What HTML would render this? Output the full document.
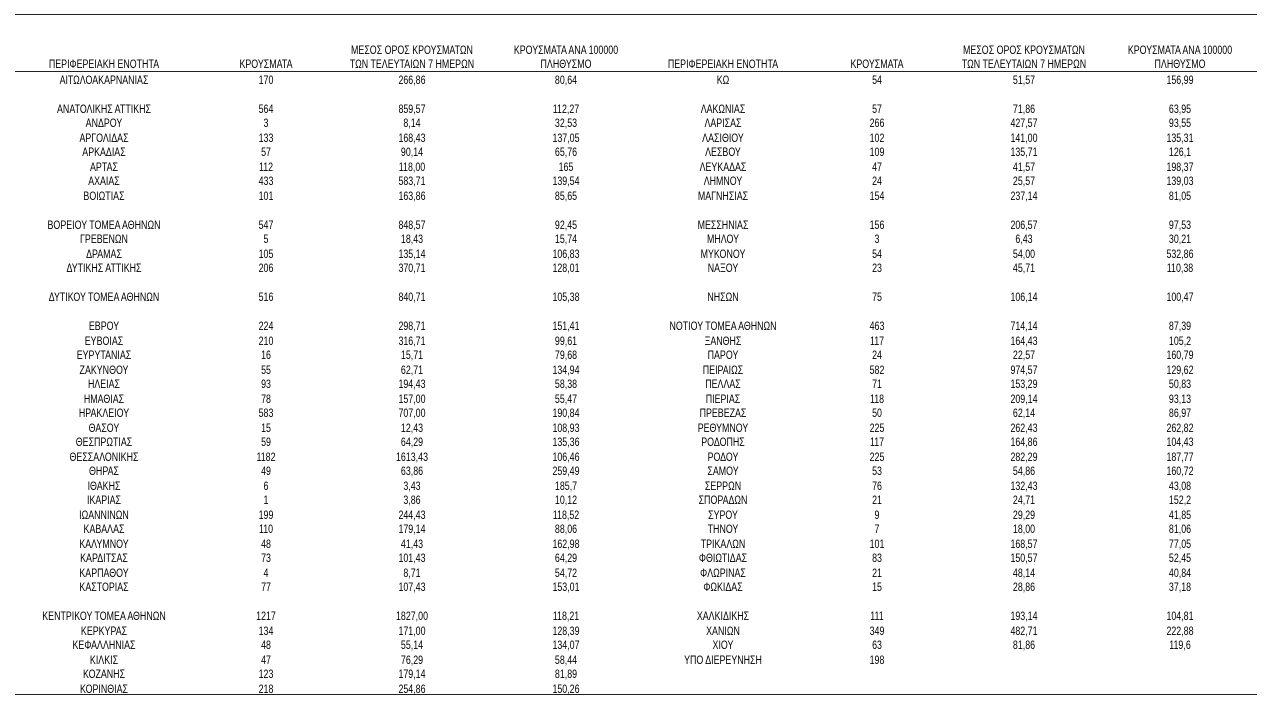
<!DOCTYPE html>
<html><head><meta charset="utf-8"><style>
body{margin:0;background:#fff;width:1267px;height:708px;position:relative;overflow:hidden;font-family:"Liberation Sans","DejaVu Sans",sans-serif;font-size:11.5px;color:#000}
.hl{position:absolute;left:15px;width:1242px;height:1px;background:#222}
.r{position:absolute;height:14.5px;line-height:14.5px;left:0;width:1267px}
.r span,.h span{position:absolute;width:200px;text-align:center;white-space:nowrap;transform:scaleX(.77)}
.r span{top:1.5px}
.a{left:4px}.b{left:166px}.c{left:312px}.d{left:466px}
.e{left:623px}.f{left:777px}.g{left:924px}.k{left:1080px}
.h{position:absolute;left:0;width:1267px;top:44px;height:28px;line-height:14px}
.h span.s{top:14px}
</style></head><body>
<div class="hl" style="top:14px"></div>
<div class="hl" style="top:71px"></div>
<div class="hl" style="top:694px"></div>
<div class="h">
<span class="a s">ΠΕΡΙΦΕΡΕΙΑΚΗ ΕΝΟΤΗΤΑ</span><span class="b s">ΚΡΟΥΣΜΑΤΑ</span><span class="c">ΜΕΣΟΣ ΟΡΟΣ ΚΡΟΥΣΜΑΤΩΝ<br>ΤΩΝ ΤΕΛΕΥΤΑΙΩΝ 7 ΗΜΕΡΩΝ</span><span class="d">ΚΡΟΥΣΜΑΤΑ ΑΝΑ 100000<br>ΠΛΗΘΥΣΜΟ</span>
<span class="e s">ΠΕΡΙΦΕΡΕΙΑΚΗ ΕΝΟΤΗΤΑ</span><span class="f s">ΚΡΟΥΣΜΑΤΑ</span><span class="g">ΜΕΣΟΣ ΟΡΟΣ ΚΡΟΥΣΜΑΤΩΝ<br>ΤΩΝ ΤΕΛΕΥΤΑΙΩΝ 7 ΗΜΕΡΩΝ</span><span class="k">ΚΡΟΥΣΜΑΤΑ ΑΝΑ 100000<br>ΠΛΗΘΥΣΜΟ</span>
</div>
<div class="r" style="top:72px"><span class="a">ΑΙΤΩΛΟΑΚΑΡΝΑΝΙΑΣ</span><span class="b">170</span><span class="c">266,86</span><span class="d">80,64</span><span class="e">ΚΩ</span><span class="f">54</span><span class="g">51,57</span><span class="k">156,99</span></div>
<div class="r" style="top:101px"><span class="a">ΑΝΑΤΟΛΙΚΗΣ ΑΤΤΙΚΗΣ</span><span class="b">564</span><span class="c">859,57</span><span class="d">112,27</span><span class="e">ΛΑΚΩΝΙΑΣ</span><span class="f">57</span><span class="g">71,86</span><span class="k">63,95</span></div>
<div class="r" style="top:115.5px"><span class="a">ΑΝΔΡΟΥ</span><span class="b">3</span><span class="c">8,14</span><span class="d">32,53</span><span class="e">ΛΑΡΙΣΑΣ</span><span class="f">266</span><span class="g">427,57</span><span class="k">93,55</span></div>
<div class="r" style="top:130px"><span class="a">ΑΡΓΟΛΙΔΑΣ</span><span class="b">133</span><span class="c">168,43</span><span class="d">137,05</span><span class="e">ΛΑΣΙΘΙΟΥ</span><span class="f">102</span><span class="g">141,00</span><span class="k">135,31</span></div>
<div class="r" style="top:144.5px"><span class="a">ΑΡΚΑΔΙΑΣ</span><span class="b">57</span><span class="c">90,14</span><span class="d">65,76</span><span class="e">ΛΕΣΒΟΥ</span><span class="f">109</span><span class="g">135,71</span><span class="k">126,1</span></div>
<div class="r" style="top:159px"><span class="a">ΑΡΤΑΣ</span><span class="b">112</span><span class="c">118,00</span><span class="d">165</span><span class="e">ΛΕΥΚΑΔΑΣ</span><span class="f">47</span><span class="g">41,57</span><span class="k">198,37</span></div>
<div class="r" style="top:173.5px"><span class="a">ΑΧΑΪΑΣ</span><span class="b">433</span><span class="c">583,71</span><span class="d">139,54</span><span class="e">ΛΗΜΝΟΥ</span><span class="f">24</span><span class="g">25,57</span><span class="k">139,03</span></div>
<div class="r" style="top:188px"><span class="a">ΒΟΙΩΤΙΑΣ</span><span class="b">101</span><span class="c">163,86</span><span class="d">85,65</span><span class="e">ΜΑΓΝΗΣΙΑΣ</span><span class="f">154</span><span class="g">237,14</span><span class="k">81,05</span></div>
<div class="r" style="top:217px"><span class="a">ΒΟΡΕΙΟΥ ΤΟΜΕΑ ΑΘΗΝΩΝ</span><span class="b">547</span><span class="c">848,57</span><span class="d">92,45</span><span class="e">ΜΕΣΣΗΝΙΑΣ</span><span class="f">156</span><span class="g">206,57</span><span class="k">97,53</span></div>
<div class="r" style="top:231.5px"><span class="a">ΓΡΕΒΕΝΩΝ</span><span class="b">5</span><span class="c">18,43</span><span class="d">15,74</span><span class="e">ΜΗΛΟΥ</span><span class="f">3</span><span class="g">6,43</span><span class="k">30,21</span></div>
<div class="r" style="top:246px"><span class="a">ΔΡΑΜΑΣ</span><span class="b">105</span><span class="c">135,14</span><span class="d">106,83</span><span class="e">ΜΥΚΟΝΟΥ</span><span class="f">54</span><span class="g">54,00</span><span class="k">532,86</span></div>
<div class="r" style="top:260.5px"><span class="a">ΔΥΤΙΚΗΣ ΑΤΤΙΚΗΣ</span><span class="b">206</span><span class="c">370,71</span><span class="d">128,01</span><span class="e">ΝΑΞΟΥ</span><span class="f">23</span><span class="g">45,71</span><span class="k">110,38</span></div>
<div class="r" style="top:289.5px"><span class="a">ΔΥΤΙΚΟΥ ΤΟΜΕΑ ΑΘΗΝΩΝ</span><span class="b">516</span><span class="c">840,71</span><span class="d">105,38</span><span class="e">ΝΗΣΩΝ</span><span class="f">75</span><span class="g">106,14</span><span class="k">100,47</span></div>
<div class="r" style="top:318.5px"><span class="a">ΕΒΡΟΥ</span><span class="b">224</span><span class="c">298,71</span><span class="d">151,41</span><span class="e">ΝΟΤΙΟΥ ΤΟΜΕΑ ΑΘΗΝΩΝ</span><span class="f">463</span><span class="g">714,14</span><span class="k">87,39</span></div>
<div class="r" style="top:333px"><span class="a">ΕΥΒΟΙΑΣ</span><span class="b">210</span><span class="c">316,71</span><span class="d">99,61</span><span class="e">ΞΑΝΘΗΣ</span><span class="f">117</span><span class="g">164,43</span><span class="k">105,2</span></div>
<div class="r" style="top:347.5px"><span class="a">ΕΥΡΥΤΑΝΙΑΣ</span><span class="b">16</span><span class="c">15,71</span><span class="d">79,68</span><span class="e">ΠΑΡΟΥ</span><span class="f">24</span><span class="g">22,57</span><span class="k">160,79</span></div>
<div class="r" style="top:362px"><span class="a">ΖΑΚΥΝΘΟΥ</span><span class="b">55</span><span class="c">62,71</span><span class="d">134,94</span><span class="e">ΠΕΙΡΑΙΩΣ</span><span class="f">582</span><span class="g">974,57</span><span class="k">129,62</span></div>
<div class="r" style="top:376.5px"><span class="a">ΗΛΕΙΑΣ</span><span class="b">93</span><span class="c">194,43</span><span class="d">58,38</span><span class="e">ΠΕΛΛΑΣ</span><span class="f">71</span><span class="g">153,29</span><span class="k">50,83</span></div>
<div class="r" style="top:391px"><span class="a">ΗΜΑΘΙΑΣ</span><span class="b">78</span><span class="c">157,00</span><span class="d">55,47</span><span class="e">ΠΙΕΡΙΑΣ</span><span class="f">118</span><span class="g">209,14</span><span class="k">93,13</span></div>
<div class="r" style="top:405.5px"><span class="a">ΗΡΑΚΛΕΙΟΥ</span><span class="b">583</span><span class="c">707,00</span><span class="d">190,84</span><span class="e">ΠΡΕΒΕΖΑΣ</span><span class="f">50</span><span class="g">62,14</span><span class="k">86,97</span></div>
<div class="r" style="top:420px"><span class="a">ΘΑΣΟΥ</span><span class="b">15</span><span class="c">12,43</span><span class="d">108,93</span><span class="e">ΡΕΘΥΜΝΟΥ</span><span class="f">225</span><span class="g">262,43</span><span class="k">262,82</span></div>
<div class="r" style="top:434.5px"><span class="a">ΘΕΣΠΡΩΤΙΑΣ</span><span class="b">59</span><span class="c">64,29</span><span class="d">135,36</span><span class="e">ΡΟΔΟΠΗΣ</span><span class="f">117</span><span class="g">164,86</span><span class="k">104,43</span></div>
<div class="r" style="top:449px"><span class="a">ΘΕΣΣΑΛΟΝΙΚΗΣ</span><span class="b">1182</span><span class="c">1613,43</span><span class="d">106,46</span><span class="e">ΡΟΔΟΥ</span><span class="f">225</span><span class="g">282,29</span><span class="k">187,77</span></div>
<div class="r" style="top:463.5px"><span class="a">ΘΗΡΑΣ</span><span class="b">49</span><span class="c">63,86</span><span class="d">259,49</span><span class="e">ΣΑΜΟΥ</span><span class="f">53</span><span class="g">54,86</span><span class="k">160,72</span></div>
<div class="r" style="top:478px"><span class="a">ΙΘΑΚΗΣ</span><span class="b">6</span><span class="c">3,43</span><span class="d">185,7</span><span class="e">ΣΕΡΡΩΝ</span><span class="f">76</span><span class="g">132,43</span><span class="k">43,08</span></div>
<div class="r" style="top:492.5px"><span class="a">ΙΚΑΡΙΑΣ</span><span class="b">1</span><span class="c">3,86</span><span class="d">10,12</span><span class="e">ΣΠΟΡΑΔΩΝ</span><span class="f">21</span><span class="g">24,71</span><span class="k">152,2</span></div>
<div class="r" style="top:507px"><span class="a">ΙΩΑΝΝΙΝΩΝ</span><span class="b">199</span><span class="c">244,43</span><span class="d">118,52</span><span class="e">ΣΥΡΟΥ</span><span class="f">9</span><span class="g">29,29</span><span class="k">41,85</span></div>
<div class="r" style="top:521.5px"><span class="a">ΚΑΒΑΛΑΣ</span><span class="b">110</span><span class="c">179,14</span><span class="d">88,06</span><span class="e">ΤΗΝΟΥ</span><span class="f">7</span><span class="g">18,00</span><span class="k">81,06</span></div>
<div class="r" style="top:536px"><span class="a">ΚΑΛΥΜΝΟΥ</span><span class="b">48</span><span class="c">41,43</span><span class="d">162,98</span><span class="e">ΤΡΙΚΑΛΩΝ</span><span class="f">101</span><span class="g">168,57</span><span class="k">77,05</span></div>
<div class="r" style="top:550.5px"><span class="a">ΚΑΡΔΙΤΣΑΣ</span><span class="b">73</span><span class="c">101,43</span><span class="d">64,29</span><span class="e">ΦΘΙΩΤΙΔΑΣ</span><span class="f">83</span><span class="g">150,57</span><span class="k">52,45</span></div>
<div class="r" style="top:565px"><span class="a">ΚΑΡΠΑΘΟΥ</span><span class="b">4</span><span class="c">8,71</span><span class="d">54,72</span><span class="e">ΦΛΩΡΙΝΑΣ</span><span class="f">21</span><span class="g">48,14</span><span class="k">40,84</span></div>
<div class="r" style="top:579.5px"><span class="a">ΚΑΣΤΟΡΙΑΣ</span><span class="b">77</span><span class="c">107,43</span><span class="d">153,01</span><span class="e">ΦΩΚΙΔΑΣ</span><span class="f">15</span><span class="g">28,86</span><span class="k">37,18</span></div>
<div class="r" style="top:608.5px"><span class="a">ΚΕΝΤΡΙΚΟΥ ΤΟΜΕΑ ΑΘΗΝΩΝ</span><span class="b">1217</span><span class="c">1827,00</span><span class="d">118,21</span><span class="e">ΧΑΛΚΙΔΙΚΗΣ</span><span class="f">111</span><span class="g">193,14</span><span class="k">104,81</span></div>
<div class="r" style="top:623px"><span class="a">ΚΕΡΚΥΡΑΣ</span><span class="b">134</span><span class="c">171,00</span><span class="d">128,39</span><span class="e">ΧΑΝΙΩΝ</span><span class="f">349</span><span class="g">482,71</span><span class="k">222,88</span></div>
<div class="r" style="top:637.5px"><span class="a">ΚΕΦΑΛΛΗΝΙΑΣ</span><span class="b">48</span><span class="c">55,14</span><span class="d">134,07</span><span class="e">ΧΙΟΥ</span><span class="f">63</span><span class="g">81,86</span><span class="k">119,6</span></div>
<div class="r" style="top:652px"><span class="a">ΚΙΛΚΙΣ</span><span class="b">47</span><span class="c">76,29</span><span class="d">58,44</span><span class="e">ΥΠΟ ΔΙΕΡΕΥΝΗΣΗ</span><span class="f">198</span></div>
<div class="r" style="top:666.5px"><span class="a">ΚΟΖΑΝΗΣ</span><span class="b">123</span><span class="c">179,14</span><span class="d">81,89</span></div>
<div class="r" style="top:681px"><span class="a">ΚΟΡΙΝΘΙΑΣ</span><span class="b">218</span><span class="c">254,86</span><span class="d">150,26</span></div>
</body></html>
